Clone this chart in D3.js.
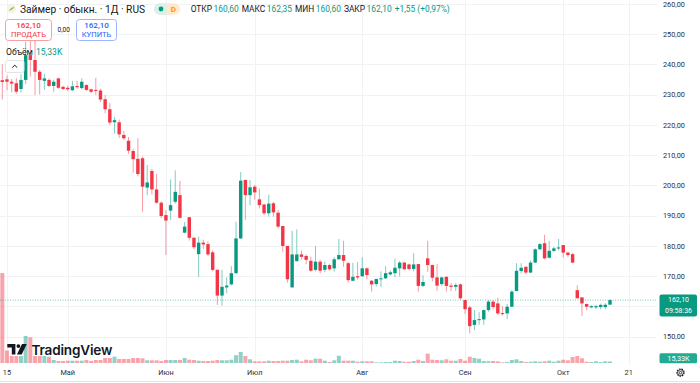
<!DOCTYPE html>
<html><head><meta charset="utf-8">
<script src="https://cdn.jsdelivr.net/npm/d3@7"></script>
<style>html,body{margin:0;padding:0;background:#fff;overflow:hidden}svg{display:block;font-family:Roboto,"Noto Sans",sans-serif}</style>
</head><body><svg id="c" width="700" height="383"></svg>
<script>
const opens = [234.8,235.1,234.3,233.8,231.9,234.9,243.1,241.5,237.6,234.6,
234.9,232.9,235.4,232.6,232.3,231.5,232.9,232.2,233.2,231.8,
231.6,231.4,228.5,225.2,220.9,220.9,216.7,214.8,211.4,208.8,
209.0,199.3,204.8,198.7,194.3,190.2,191.7,194.6,196.8,184.4,
189.5,182.7,177.3,181.1,180.6,177.9,172.1,163.6,166.3,167.3,
171.0,182.5,201.8,196.8,199.6,195.4,193.7,190.8,194.1,191.0,
186.6,180.0,166.3,175.0,177.2,176.7,175.1,172.1,174.8,172.1,
173.7,172.6,175.6,177.0,174.3,168.5,170.0,170.0,172.6,168.5,
167.4,169.0,169.3,170.6,171.0,172.6,174.5,173.9,172.4,174.0,
166.8,175.9,173.7,169.6,167.4,169.8,166.9,166.5,167.3,162.1,
159.7,153.9,155.5,155.7,158.8,161.6,161.0,157.8,157.7,159.9,
165.1,171.7,173.1,171.2,174.5,178.9,180.9,176.1,178.4,179.2,
180.3,177.8,177.3,165.4,163.0,160.8,159.7,159.7,159.8,159.8,
160.6];
const highs = [240.0,236.4,235.2,235.5,236.8,247.5,248.8,248.0,238.2,236.9,
235.4,235.0,235.6,233.0,233.0,234.6,234.6,235.4,233.5,232.0,
235.6,232.0,229.9,227.2,222.7,221.8,218.0,216.0,212.0,215.6,
209.5,206.8,205.5,203.8,194.8,191.9,202.0,205.0,201.5,187.9,
189.6,183.0,183.1,182.1,181.5,178.6,172.3,172.1,169.7,173.3,
188.0,204.4,202.0,201.8,200.2,199.0,194.0,197.0,194.6,191.9,
186.6,180.0,185.0,185.5,178.5,177.2,176.5,180.0,175.4,174.8,
174.2,176.3,182.3,181.7,174.8,174.4,174.6,176.3,172.9,168.7,
169.1,171.6,173.3,171.9,175.8,175.0,174.8,174.2,177.6,174.0,
170.3,181.7,173.8,174.0,169.8,169.9,167.7,167.7,167.6,162.2,
160.2,158.8,158.1,159.0,162.1,162.1,162.9,160.1,160.8,165.4,
174.3,174.3,173.3,175.1,179.2,181.0,183.7,181.7,179.7,182.3,
180.3,178.1,177.7,167.0,163.0,161.0,160.4,160.5,160.9,161.1,
162.35];
const lows = [228.4,231.5,230.8,230.3,230.7,233.5,236.0,229.9,230.1,231.6,
232.5,231.0,232.0,231.6,231.2,231.2,232.0,231.8,231.3,230.5,
229.9,227.6,223.9,220.0,217.2,215.7,215.0,210.5,204.2,203.0,
191.3,196.8,197.0,194.0,189.2,177.0,188.6,194.0,189.0,184.2,
181.8,179.0,169.8,179.0,176.6,171.6,160.5,160.2,164.4,166.9,
170.8,182.3,188.6,193.5,195.3,192.4,190.2,189.7,189.7,185.8,
178.1,167.9,166.3,174.8,175.5,174.0,171.5,171.6,170.9,171.3,
171.8,171.5,175.4,173.1,167.9,168.3,168.9,169.8,169.0,164.9,
166.6,166.4,169.1,170.2,169.7,169.9,172.0,172.0,171.6,164.9,
166.4,171.5,168.3,165.2,166.8,164.9,165.1,165.1,162.2,157.5,
151.1,152.2,153.9,153.9,158.3,159.0,157.2,157.0,155.8,159.9,
165.1,170.9,170.7,171.0,174.5,178.7,175.6,175.9,178.0,178.5,
176.2,176.4,174.3,162.7,156.9,158.8,159.4,159.1,159.1,159.1,
160.6];
const closes = [234.2,234.3,233.7,231.0,234.9,243.1,241.5,237.6,234.9,235.4,
232.9,234.3,232.3,231.9,231.8,232.8,232.5,234.3,231.6,231.0,
231.3,228.4,225.2,220.8,221.6,216.9,215.6,211.5,208.7,203.8,
199.6,201.0,198.7,194.3,189.9,188.4,193.5,197.9,189.3,186.4,
182.7,179.6,181.1,180.5,177.2,172.1,163.6,166.5,166.9,171.0,
182.5,201.6,196.8,199.4,197.7,193.5,190.8,194.0,191.1,186.4,
180.0,169.0,177.2,177.2,176.4,175.4,171.8,174.8,171.8,173.7,
172.3,175.6,177.0,175.1,168.7,169.8,169.6,172.6,170.4,167.3,
169.1,169.3,171.0,171.3,172.8,174.5,172.3,172.4,173.9,166.8,
168.1,173.7,169.5,166.9,169.6,166.8,166.5,167.1,162.7,159.1,
153.5,155.5,155.8,158.8,161.6,159.8,157.7,157.5,159.9,164.9,
171.8,172.8,171.2,174.5,178.9,180.6,175.9,178.4,179.2,179.5,
177.8,177.0,174.5,162.7,161.0,159.9,160.1,160.1,160.5,160.55,
162.1];
const volumes = [900,125,70,70,70,270,257,70,70,70,
63,30,20,20,23,23,23,23,30,20,
30,30,50,50,63,40,40,40,50,50,
47,27,27,27,20,30,30,30,30,50,
33,30,23,20,20,23,30,27,27,33,
78,110,70,37,17,17,17,23,20,20,
23,23,30,33,17,33,27,43,43,23,
10,27,73,23,23,23,13,17,17,17,
7,7,10,10,23,20,13,13,20,33,
20,93,33,30,27,37,23,23,40,23,
63,50,43,20,17,20,17,7,10,30,
37,20,10,13,17,13,17,23,13,23,
33,27,60,70,47,13,10,17,10,17,
15.33];
const priceTicks = [150,160,170,180,190,200,210,220,230,240,250,260];
const timeTickIdx = [1,14,35,54,77,99,120,134];
const timeTickLabels = ["15","Май","Июн","Июл","Авг","Сен","Окт","21"];
const lastPrice = 162.10, lastVolumeLabel = "15,33K", timer = "09:58:36";

const UP = "#089981", DN = "#f23645";
const svg = d3.select("#c");
const W = 700, H = 383, plotR = 657, plotB = 365;
const x = d3.scaleLinear().domain([0, 130]).range([2.3, 610]);
const y = d3.scaleLinear().domain([150, 260]).range([336.7, 4]);
const yv = d3.scaleLinear().domain([0, 1000]).range([363, 263]);
const fmt = v => d3.format(".2f")(v).replace(".", ",");

svg.append("rect").attr("width", W).attr("height", H).attr("fill", "#fff");

// grid
const g = svg.append("g");
g.selectAll("line.h").data(priceTicks).join("line")
  .attr("x1", 0).attr("x2", plotR).attr("y1", d => Math.round(y(d)) + 0.5).attr("y2", d => Math.round(y(d)) + 0.5)
  .attr("stroke", "#f0f2f5");
g.selectAll("line.v").data(timeTickIdx).join("line")
  .attr("y1", 0).attr("y2", plotB).attr("x1", d => Math.round(x(d)) + 0.5).attr("x2", d => Math.round(x(d)) + 0.5)
  .attr("stroke", "#f0f2f5");

const idx = d3.range(opens.length);
const up = i => closes[i] >= opens[i];

// volumes
svg.append("g").selectAll("rect").data(idx).join("rect")
  .attr("x", i => x(i) - 2).attr("width", 4)
  .attr("y", i => yv(volumes[i])).attr("height", i => yv(0) - yv(volumes[i]))
  .attr("fill", i => up(i) ? "rgba(8,153,129,0.45)" : "rgba(242,54,69,0.45)");

// wicks
svg.append("g").selectAll("line").data(idx).join("line")
  .attr("x1", i => x(i)).attr("x2", i => x(i))
  .attr("y1", i => y(highs[i])).attr("y2", i => y(lows[i]))
  .attr("stroke", i => up(i) ? "rgba(8,153,129,0.5)" : "rgba(242,54,69,0.5)").attr("stroke-width", 1);
// bodies
svg.append("g").selectAll("rect").data(idx).join("rect")
  .attr("x", i => x(i) - 1.7).attr("width", 3.4)
  .attr("y", i => y(Math.max(opens[i], closes[i])))
  .attr("height", i => Math.max(1, y(Math.min(opens[i], closes[i])) - y(Math.max(opens[i], closes[i]))))
  .attr("fill", i => up(i) ? UP : DN);

// last price line
svg.append("line").attr("x1", 0).attr("x2", plotR).attr("y1", y(lastPrice)).attr("y2", y(lastPrice))
  .attr("stroke", "rgba(8,153,129,0.55)").attr("stroke-dasharray", "1 1.5");

// price axis labels (the one hidden under the last-price tag is skipped, as on the reference)
svg.append("g").selectAll("text").data(priceTicks.filter(d => Math.abs(y(d) - y(lastPrice)) > 14)).join("text")
  .attr("x", 663).attr("y", d => y(d)).attr("dy", "0.35em")
  .attr("font-size", 7.3).attr("fill", "#2a2e39").text(fmt);

// time axis labels
svg.append("g").selectAll("text").data(timeTickIdx).join("text")
  .attr("x", d => x(d)).attr("y", 372.7).attr("dy", "0.35em").attr("text-anchor", "middle")
  .attr("font-size", 7.3).attr("fill", "#2a2e39").text((d, i) => timeTickLabels[i]);

svg.append("line").attr("x1", 0).attr("x2", W).attr("y1", 381.5).attr("y2", 381.5).attr("stroke", "#e0e3eb");

// price tag
svg.append("rect").attr("x", 659.5).attr("y", 294.5).attr("width", 37.5).attr("height", 22).attr("rx", 2).attr("fill", UP);
svg.append("text").attr("x", 678.5).attr("y", 300).attr("dy", "0.35em").attr("text-anchor", "middle")
  .attr("font-size", 7).attr("fill", "#fff").text(fmt(lastPrice));
svg.append("text").attr("x", 678.5).attr("y", 310.6).attr("dy", "0.35em").attr("text-anchor", "middle")
  .attr("font-size", 7).attr("fill", "#fff").text(timer);
// volume tag
svg.append("rect").attr("x", 659.5).attr("y", 353.3).attr("width", 37.5).attr("height", 10).attr("rx", 1.5).attr("fill", "#22ab94");
svg.append("text").attr("x", 678.5).attr("y", 358.4).attr("dy", "0.35em").attr("text-anchor", "middle")
  .attr("font-size", 7.3).attr("fill", "#fff").text(lastVolumeLabel);

// gear
const gear = svg.append("g").attr("transform", "translate(680.5,372.6)");
gear.append("circle").attr("r", 3.6).attr("fill", "none").attr("stroke", "#131722").attr("stroke-width", 1.1).attr("stroke-dasharray", "1.6 0.9");
gear.append("circle").attr("r", 2.9).attr("fill", "none").attr("stroke", "#131722").attr("stroke-width", 0.8);
gear.append("circle").attr("r", 1.2).attr("fill", "none").attr("stroke", "#131722").attr("stroke-width", 0.8);

// header
const hdr = svg.append("g");
hdr.append("circle").attr("cx", 11.5).attr("cy", 8.8).attr("r", 4.6).attr("fill", "#eef6e8");
hdr.append("path").attr("d", "M8.8,11 L12.5,7.2 L14.5,6.5 L13.6,8.6 Z").attr("fill", "#e6b422");
hdr.append("path").attr("d", "M8.8,11 L11.5,9.5 L12.5,7.2 Z").attr("fill", "#5aa846");
hdr.append("text").attr("x", 20).attr("y", 9.3).attr("dy", "0.35em").attr("font-size", 10.2).attr("fill", "#131722")
  .text("Займер · обыкн. · 1Д · RUS");
hdr.append("rect").attr("x", 154).attr("y", 3.3).attr("width", 26).attr("height", 11.5).attr("rx", 5.75).attr("fill", "#ffe8cc");
hdr.append("path").attr("d", "M159.75,3.3 H166.7 V14.8 H159.75 A5.75,5.75 0 0 1 159.75,3.3 Z").attr("fill", "#daf1ea");
hdr.append("circle").attr("cx", 161).attr("cy", 9).attr("r", 2.4).attr("fill", UP);
hdr.append("text").attr("x", 173.3).attr("y", 9.2).attr("dy", "0.35em").attr("text-anchor", "middle")
  .attr("font-size", 8).attr("font-weight", 700).attr("fill", "#ff9800").text("D");

const ohlc = hdr.append("text").attr("x", 190.7).attr("y", 9.3).attr("dy", "0.35em").attr("font-size", 8.4);
const parts = [["ОТКР", "#131722", 0], ["160,60", UP, 1.5], ["МАКС", "#131722", 3], ["162,35", UP, 1.5],
  ["МИН", "#131722", 3], ["160,60", UP, 1.5], ["ЗАКР", "#131722", 3], ["162,10", UP, 1.5], ["+1,55 (+0,97%)", UP, 3]];
parts.forEach(p => ohlc.append("tspan").attr("dx", p[2]).attr("fill", p[1]).text(p[0]));

// buttons
hdr.append("rect").attr("x", 5.5).attr("y", 19.5).attr("width", 46).attr("height", 21).attr("rx", 3)
  .attr("fill", "#fff").attr("stroke", "#f7a0a8");
hdr.append("text").attr("x", 28.5).attr("y", 25.6).attr("dy", "0.35em").attr("text-anchor", "middle")
  .attr("font-size", 8).attr("font-weight", 500).attr("fill", DN).text("162,10");
hdr.append("text").attr("x", 28.5).attr("y", 34.8).attr("dy", "0.35em").attr("text-anchor", "middle")
  .attr("font-size", 7.6).attr("fill", DN).text("ПРОДАТЬ");
hdr.append("text").attr("x", 63.7).attr("y", 30).attr("dy", "0.35em").attr("text-anchor", "middle")
  .attr("font-size", 6.6).attr("fill", "#131722").text("0,00");
hdr.append("rect").attr("x", 76.5).attr("y", 19.5).attr("width", 40).attr("height", 21).attr("rx", 3)
  .attr("fill", "#fff").attr("stroke", "#9db4ff");
hdr.append("text").attr("x", 96.5).attr("y", 25.6).attr("dy", "0.35em").attr("text-anchor", "middle")
  .attr("font-size", 8).attr("font-weight", 500).attr("fill", "#2962ff").text("162,10");
hdr.append("text").attr("x", 96.5).attr("y", 34.8).attr("dy", "0.35em").attr("text-anchor", "middle")
  .attr("font-size", 7.6).attr("fill", "#2962ff").text("КУПИТЬ");

const vl = hdr.append("text").attr("x", 6).attr("y", 51.5).attr("dy", "0.35em").attr("font-size", 8.6);
vl.append("tspan").attr("fill", "#131722").text("Объём");
vl.append("tspan").attr("dx", 3).attr("fill", UP).text("15,33K");

hdr.append("rect").attr("x", 5.5).attr("y", 60.5).attr("width", 18.5).attr("height", 12).attr("rx", 2)
  .attr("fill", "#fff").attr("stroke", "#e0e3eb");
hdr.append("path").attr("d", "M12.3,67.6 L14.75,65.2 L17.2,67.6").attr("fill", "none").attr("stroke", "#131722").attr("stroke-width", 1);

// TradingView logo
const lg = svg.append("g");
lg.append("path").attr("d", "M7.3,344 H15.4 V354.5 H11.8 V347.6 H7.3 Z").attr("fill", "#131722");
lg.append("circle").attr("cx", 18.4).attr("cy", 346.1).attr("r", 1.9).attr("fill", "#131722");
lg.append("path").attr("d", "M22,344 H26.8 L21.7,354.5 H16.9 Z").attr("fill", "#131722");
lg.append("text").attr("x", 31.5).attr("y", 350.3).attr("dy", "0.35em").attr("font-size", 13.6)
  .attr("font-weight", 600).attr("fill", "#131722").attr("font-family", "Inter, Roboto, sans-serif").attr("letter-spacing", -0.2).text("TradingView");
</script></body></html>
